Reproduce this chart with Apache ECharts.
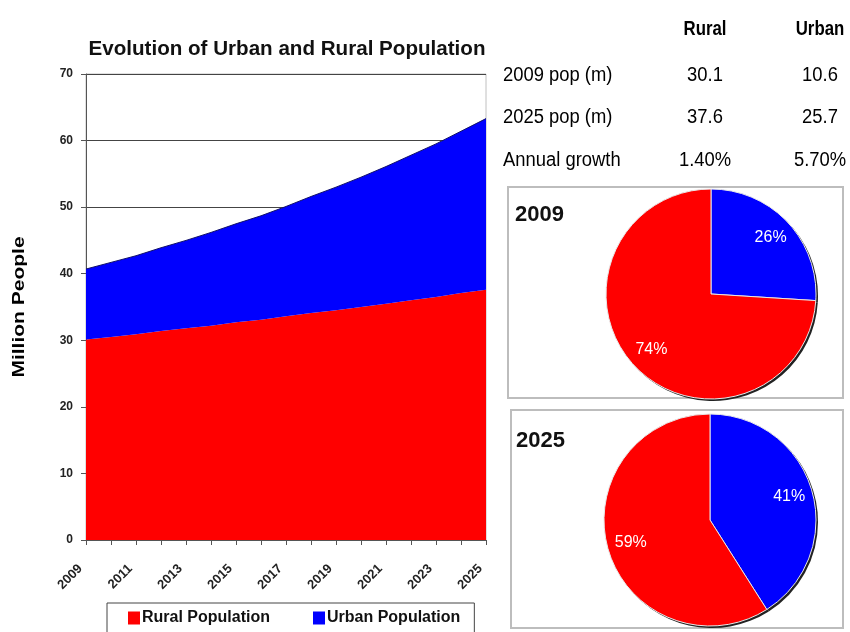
<!DOCTYPE html>
<html>
<head>
<meta charset="utf-8">
<script src="https://cdn.jsdelivr.net/npm/echarts@6/dist/echarts.min.js"></script>
<style>
	html, body { margin: 0; padding: 0; background: #fff; }
	#popChart { width: 850px; height: 632px; }
</style>
</head>
<body>
<div id="popChart"></div>
<script>
var years = ['2009', '2010', '2011', '2012', '2013', '2014', '2015', '2016', '2017',
	'2018', '2019', '2020', '2021', '2022', '2023', '2024', '2025'];
var rural = [30.1, 30.5, 30.9, 31.4, 31.8, 32.2, 32.7, 33.1, 33.6, 34.1, 34.5, 35.0, 35.5, 36.0, 36.5, 37.1, 37.6];
var urban = [10.6, 11.2, 11.8, 12.5, 13.2, 14.0, 14.8, 15.6, 16.5, 17.5, 18.5, 19.5, 20.6, 21.8, 23.0, 24.3, 25.7];

var tableHeads = ['Rural', 'Urban'];
var tableRows = ['2009 pop (m)', '2025 pop (m)', 'Annual growth'];
var ruralStats = ['30.1', '37.6', '1.40%'];
var urbanStats = ['10.6', '25.7', '5.70%'];

// pie shares: urban first, then rural (clockwise from 12 o'clock)
var share2009 = [26, 74];
var share2025 = [41, 59];

var RED = '#ff0000';
var BLUE = '#0000ff';
var sans = '"Liberation Sans", Arial, sans-serif';

function pieData(share) {
	return [
		{ name: 'Urban', value: share[0], itemStyle: { color: BLUE } },
		{ name: 'Rural', value: share[1], itemStyle: { color: RED } }
	];
}

function pieSeries(share, cx, cy, r) {
	return [
		{
			// dark rim behind the pie
			type: 'pie', silent: true, z: 1,
			center: [cx + 2, cy + 2], radius: [0, r],
			label: { show: false }, labelLine: { show: false },
			itemStyle: { color: '#222', borderWidth: 0 },
			data: share.map(function(v) { return { value: v }; })
		},
		{
			type: 'pie', silent: true, z: 2,
			center: [cx, cy], radius: [0, r],
			label: { show: false }, labelLine: { show: false },
			itemStyle: { borderColor: '#e8e8e8', borderWidth: 1 },
			data: pieData(share)
		},
		{
			// transparent ring that only carries the labels further out
			type: 'pie', silent: true, z: 3,
			center: [cx, cy], radius: [r * 0.5, r],
			labelLine: { show: false },
			label: {
				show: true, position: 'inside', formatter: '{c}%',
				color: '#fff', fontSize: 16, fontFamily: sans
			},
			itemStyle: { color: 'rgba(0,0,0,0)', borderWidth: 0 },
			data: share.map(function(v) { return { value: v }; })
		}
	];
}

function cell(text, x, y, font, align, sx) {
	return {
		type: 'text', x: x, y: y, scaleX: sx,
		style: { text: text, fill: '#000', font: font, textAlign: align, textVerticalAlign: 'middle' }
	};
}

var graphics = [];
var colX = [705, 820];
var rowY = [75, 117, 160];
for (var i = 0; i < tableHeads.length; ++i) {
	graphics.push(cell(tableHeads[i], colX[i], 29, 'bold 21px ' + sans, 'center', 0.8));
}
for (var j = 0; j < tableRows.length; ++j) {
	graphics.push(cell(tableRows[j], 503, rowY[j], '20px ' + sans, 'left', 0.92));
	graphics.push(cell(ruralStats[j], colX[0], rowY[j], '20px ' + sans, 'center', 0.92));
	graphics.push(cell(urbanStats[j], colX[1], rowY[j], '20px ' + sans, 'center', 0.92));
}
graphics.push(
	{ type: 'rect', shape: { x: 508, y: 187, width: 335, height: 211 }, style: { fill: 'none', stroke: '#bdbdbd', lineWidth: 2 } },
	{ type: 'rect', shape: { x: 511, y: 410, width: 332, height: 218 }, style: { fill: 'none', stroke: '#bdbdbd', lineWidth: 2 } },
	{ type: 'text', x: 515, y: 215, style: { text: '2009', fill: '#111', font: 'bold 22px ' + sans, textVerticalAlign: 'middle' } },
	{ type: 'text', x: 516, y: 441, style: { text: '2025', fill: '#111', font: 'bold 22px ' + sans, textVerticalAlign: 'middle' } },
	{
		// y axis title, tall and narrow like the original
		type: 'text', x: 20, y: 307, rotation: Math.PI / 2, scaleY: 0.75,
		style: { text: 'Million People', fill: '#000', font: 'bold 21px ' + sans, textAlign: 'center', textVerticalAlign: 'middle' }
	}
);

var chart = echarts.init(document.getElementById('popChart'));
var option = {
	backgroundColor: '#fff',
	animation: false,
	title: {
		text: 'Evolution of Urban and Rural Population',
		left: 282, top: 34, textAlign: 'center',
		textStyle: { fontFamily: sans, fontSize: 20.6, fontWeight: 'bold', color: '#111' }
	},
	legend: {
		left: 107, top: 603,
		padding: [7, 14, 12, 21],
		itemGap: 43, itemWidth: 12, itemHeight: 13,
		borderColor: '#444', borderWidth: 1,
		icon: 'rect',
		textStyle: { fontFamily: sans, fontSize: 16, fontWeight: 'bold', color: '#111', padding: [0, 0, 0, -3] },
		data: ['Rural Population', 'Urban Population']
	},
	grid: {
		left: 86, right: 364, top: 74, bottom: 92,
		show: true, borderColor: '#c0c0c0', borderWidth: 1, backgroundColor: 'transparent'
	},
	xAxis: {
		type: 'category',
		boundaryGap: false,
		data: years,
		axisLine: { lineStyle: { color: '#555' } },
		axisTick: { interval: 0, length: 5, lineStyle: { color: '#555' } },
		axisLabel: {
			interval: 1, rotate: 45, margin: 21, padding: [0, 8, 0, 0],
			fontFamily: sans, fontSize: 13, fontWeight: 'bold', color: '#222'
		},
		splitLine: { show: false }
	},
	yAxis: {
		type: 'value',
		min: 0, max: 70, interval: 10,
		axisLine: { show: true, lineStyle: { color: '#555' } },
		axisTick: { show: true, length: 5, lineStyle: { color: '#555' } },
		axisLabel: { margin: 13, fontFamily: sans, fontSize: 12, fontWeight: 'bold', color: '#222' },
		splitLine: { lineStyle: { color: '#444', width: 1 } }
	},
	graphic: graphics,
	series: [
		{
			name: 'Rural Population',
			type: 'line', stack: 'pop',
			showSymbol: false, smooth: false,
			itemStyle: { color: RED },
			lineStyle: { width: 0 },
			areaStyle: { color: RED, opacity: 1 },
			data: rural
		},
		{
			name: 'Urban Population',
			type: 'line', stack: 'pop',
			showSymbol: false, smooth: false,
			itemStyle: { color: BLUE },
			lineStyle: { width: 1, color: '#10106a' },
			areaStyle: { color: BLUE, opacity: 1 },
			data: urban
		}
	].concat(pieSeries(share2009, 711, 294, 105), pieSeries(share2025, 710, 520, 106))
};
chart.setOption(option);
</script>
</body>
</html>
